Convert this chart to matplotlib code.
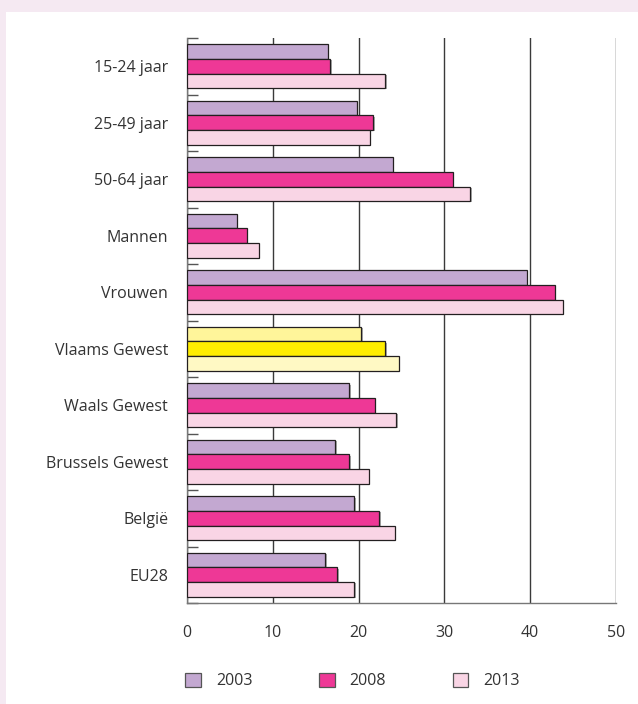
import matplotlib.pyplot as plt
import matplotlib.patches as mpatches
import matplotlib.patheffects as pe
import numpy as np

plt.rcParams['font.family'] = ['Open Sans', 'DejaVu Sans']

# data
categories = ["15-24 jaar", "25-49 jaar", "50-64 jaar", "Mannen", "Vrouwen",
              "Vlaams Gewest", "Waals Gewest", "Brussels Gewest", "België", "EU28"]
years = ["2003", "2008", "2013"]
v2003 = [16.4, 19.8, 24.0, 5.8, 39.6, 20.3, 18.9, 17.3, 19.5, 16.1]
v2008 = [16.7, 21.7, 31.0, 7.0, 42.9, 23.1, 21.9, 18.9, 22.4, 17.5]
v2013 = [23.1, 21.3, 33.0, 8.4, 43.8, 24.7, 24.4, 21.2, 24.2, 19.5]
xticks = [0, 10, 20, 30, 40, 50]

colors = ["#c3a8d1", "#ee3896", "#f9d5e5"]
flemish = ["#fff59a", "#ffed00", "#fff9c4"]
highlight = "Vlaams Gewest"

text_col = "#333333"
edge_col = "#231f20"
fs = 11.5

fig = plt.figure(figsize=(6.38, 7.04), dpi=100)
fig.patch.set_facecolor("#f5e9f2")
fig.add_artist(mpatches.Rectangle((6 / 638, 0), 1, 1 - 12 / 704,
                                  transform=fig.transFigure,
                                  facecolor="white", edgecolor="none", zorder=0))

ax = fig.add_axes([187 / 638, 1 - 603 / 704, (616 - 187) / 638, (603 - 38) / 704])
ax.set_facecolor("none")

y = np.arange(len(categories))
h = 0.257
shadow = [pe.SimplePatchShadow(offset=(1, -1), shadow_rgbFace="#888888", alpha=0.7), pe.Normal()]
for k, vals in enumerate([v2003, v2008, v2013]):
    fc = [flemish[k] if c == highlight else colors[k] for c in categories]
    bars = ax.barh(y + (k - 1) * h, vals, height=h, color=fc,
                   edgecolor=edge_col, linewidth=0.9, zorder=3)
    for b in bars:
        b.set_path_effects(shadow)

ax.set_xlim(0, 50)
ax.set_ylim(len(categories) - 0.5, -0.5)

ax.set_xticks(xticks)
ax.set_xticklabels([str(t) for t in xticks])
ax.tick_params(axis="x", length=0, pad=16, labelsize=fs, labelcolor=text_col)
ax.xaxis.grid(True, color="#3a3a3a", linewidth=1.0, zorder=1)

# ticks at group boundaries, labels at centres
ax.set_yticks(np.arange(len(categories) + 1) - 0.5)
ax.set_yticklabels([])
ax.tick_params(axis="y", which="major", direction="in", length=8,
               width=1.0, color="#555555")
ax.set_yticks(y, minor=True)
ax.set_yticklabels(categories, minor=True)
ax.tick_params(axis="y", which="minor", length=0, pad=13.5, labelsize=fs,
               labelcolor=text_col)

for s in ["top", "right"]:
    ax.spines[s].set_visible(False)
ax.spines["left"].set_color("#777777")
ax.spines["bottom"].set_color("#777777")
ax.spines["left"].set_linewidth(1.0)
ax.spines["bottom"].set_linewidth(1.0)

handles = [mpatches.Patch(facecolor=c, edgecolor="#555555", linewidth=0.9)
           for c in colors]
fig.legend(handles, years, loc="center", bbox_to_anchor=(0.553, 1 - 681 / 704),
           ncol=3, frameon=False, fontsize=fs, handlelength=0.95,
           handleheight=0.95, handletextpad=0.95, columnspacing=4.2,
           labelcolor=text_col)

fig.savefig("out.png", dpi=100, facecolor=fig.get_facecolor())
